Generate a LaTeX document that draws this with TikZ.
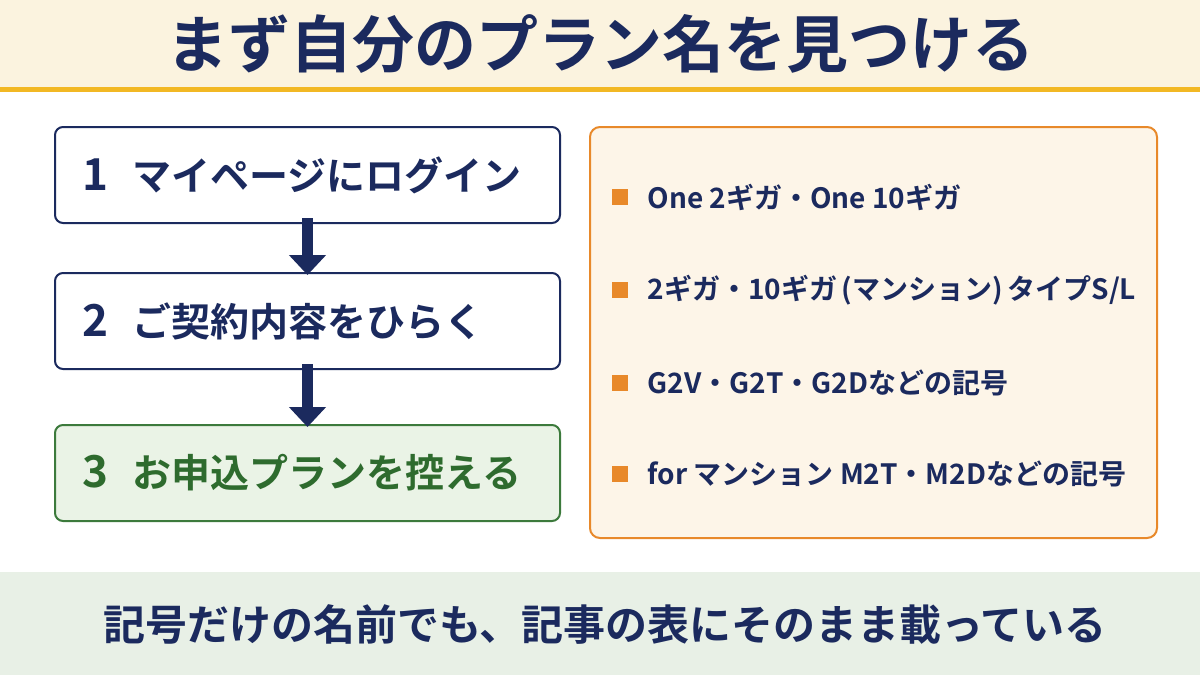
\documentclass[tikz,border=0pt]{standalone}
\usepackage{fontspec}
\setmainfont{Noto Sans CJK JP}[BoldFont={Noto Sans CJK JP Bold}]
\usetikzlibrary{arrows.meta}
\definecolor{navy}{HTML}{1B2A5E}
\definecolor{cream}{HTML}{FBF3DF}
\definecolor{gold}{HTML}{F2B824}
\definecolor{gfill}{HTML}{EAF3E6}
\definecolor{gline}{HTML}{3C7A3C}
\definecolor{gtext}{HTML}{2E6B2E}
\definecolor{ofill}{HTML}{FDF5E8}
\definecolor{oline}{HTML}{E8892A}
\definecolor{bfill}{HTML}{E8F0E6}
\tikzset{
 stepbox/.style={draw=navy,line width=2pt,fill=white,rounded corners=8pt,minimum width=505pt,minimum height=96pt,text=navy,font=\bfseries\fontsize{39}{42}\selectfont,align=left,text width=450pt},
 item/.style={anchor=west,text=navy,font=\bfseries\fontsize{28}{32}\selectfont},
 sq/.style={fill=oline,minimum size=16pt,inner sep=0pt},
 arr/.style={-{Triangle[width=36pt,length=20pt]},line width=11pt,draw=navy}
}
\newcommand{\numb}[1]{{\fontsize{44}{46}\selectfont #1}\hspace{24pt}}
\begin{document}
\begin{tikzpicture}[x=1pt,y=-1pt]
\useasboundingbox (0,0) rectangle (1200,675);
\fill[white] (0,0) rectangle (1200,675);
\fill[cream] (0,0) rectangle (1200,88);
\fill[gold] (0,87) rectangle (1200,92);
\node[text=navy,font=\bfseries\fontsize{62}{66}\selectfont] (title) at (600,44) {まず自分のプラン名を見つける};
\node[stepbox] (s1) at (307.5,175) {\numb{1}マイページにログイン};
\node[stepbox] (s2) at (307.5,321) {\numb{2}ご契約内容をひらく};
\node[stepbox,draw=gline,fill=gfill,text=gtext] (s3) at (307.5,473) {\numb{3}お申込プランを控える};
\draw[arr] ([yshift=6pt]s1.south) -- ([yshift=-3pt]s2.north);
\draw[arr] ([yshift=6pt]s2.south) -- ([yshift=-3pt]s3.north);
\node[draw=oline,line width=2pt,fill=ofill,rounded corners=10pt,minimum width=567pt,minimum height=411pt] (panel) at (873.5,332.5) {};
\node[sq] (q1) at (620,197) {}; \node[item] (t1) at (644,197) {One 2ギガ・One 10ギガ};
\node[sq] (q2) at (620,290) {}; \node[item] (t2) at (644,290) {2ギガ・10ギガ\,(マンション)\,タイプS/L};
\node[sq] (q3) at (620,383) {}; \node[item] (t3) at (644,383) {G2V・G2T・G2Dなどの記号};
\node[sq] (q4) at (620,474) {}; \node[item] (t4) at (644,474) {for マンション M2T・M2Dなどの記号};
\fill[bfill] (0,572) rectangle (1200,675);
\node[text=navy,font=\bfseries\fontsize{42}{46}\selectfont] (foot) at (605,624) {記号だけの名前でも、記事の表にそのまま載っている};
\end{tikzpicture}
\end{document}
